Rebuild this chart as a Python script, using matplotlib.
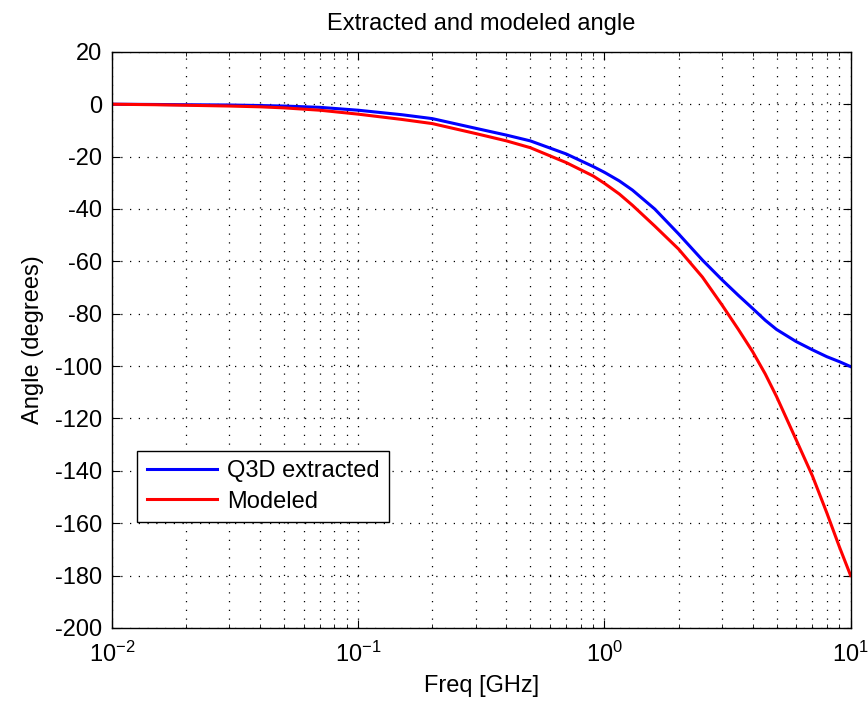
import numpy as np
from matplotlib import pyplot as plt

plt.rcParams['font.family'] = ['Liberation Sans', 'DejaVu Sans']
plt.rcParams['axes.unicode_minus'] = False
plt.rcParams['mathtext.fontset'] = 'custom'
plt.rcParams['mathtext.rm'] = 'Liberation Sans'
plt.rcParams['mathtext.default'] = 'regular'

#Frequency points [GHz] and angles
freq = [0.01, 0.015, 0.02, 0.03, 0.04, 0.05, 0.07, 0.1, 0.15, 0.2, 0.3, 0.4, 0.5,
        0.7, 0.9, 1.0, 1.15, 1.3, 1.6, 2.0, 2.5, 3.0, 3.5, 4.0, 4.5, 5.0, 6.0, 7.0,
        8.0, 9.0, 10.0]
q3d = [0.0, -0.1, -0.2, -0.3, -0.5, -0.7, -1.2, -2.3, -4.0, -5.5, -9.2, -11.8, -14.0,
       -19.0, -23.8, -26.0, -29.3, -32.8, -40.0, -49.5, -59.5, -67.0, -73.0, -78.0,
       -82.5, -86.0, -90.6, -93.8, -96.4, -98.3, -100.2]
modeled = [0.0, -0.2, -0.4, -0.7, -1.0, -1.4, -2.3, -3.8, -5.8, -7.4, -11.2, -14.0, -16.6,
           -22.3, -27.4, -30.2, -34.3, -38.6, -46.5, -55.3, -66.0, -76.6, -86.0, -94.5,
           -103.0, -111.6, -128.0, -142.0, -156.0, -169.0, -180.0]

fs = 17
fig = plt.figure(figsize=(8.68, 7.10), dpi=100)
ax = fig.add_axes([0.129, 0.1155, 0.851, 0.8115])
ax.semilogx(freq, q3d, color='b', lw=2.2, label='Q3D extracted')
ax.semilogx(freq, modeled, color='r', lw=2.2, label='Modeled')
ax.set_xlim([1e-2, 1e1])
ax.set_ylim([-200, 20])
ax.set_yticks(np.arange(-200, 21, 20))
dots = (0, (1, 6))
ax.grid(True, which='major', axis='both', linestyle=dots, color='k', lw=0.9)
ax.grid(True, which='minor', axis='x', linestyle=dots, color='k', lw=0.9)
ax.tick_params(which='both', direction='in', top=True, right=True, labelsize=fs, pad=7)
ax.tick_params(axis='x', which='both', pad=10)
ax.tick_params(which='major', length=6)
ax.tick_params(which='minor', length=3)
for s in ax.spines.values():
    s.set_linewidth(1.0)
ax.set_xlabel('Freq [GHz]', fontsize=fs, labelpad=6)
ax.set_ylabel('Angle (degrees)', fontsize=fs, labelpad=8)
ax.set_title('Extracted and modeled angle', fontsize=fs, pad=16)
leg = ax.legend(loc='lower left', bbox_to_anchor=(0.034, 0.184), fontsize=fs,
                handlelength=3.0, handletextpad=0.4, fancybox=False, framealpha=1,
                edgecolor='k', borderaxespad=0, borderpad=0.4, labelspacing=0.35)
leg.get_frame().set_linewidth(1.0)

plt.savefig('out.png', dpi=100)
